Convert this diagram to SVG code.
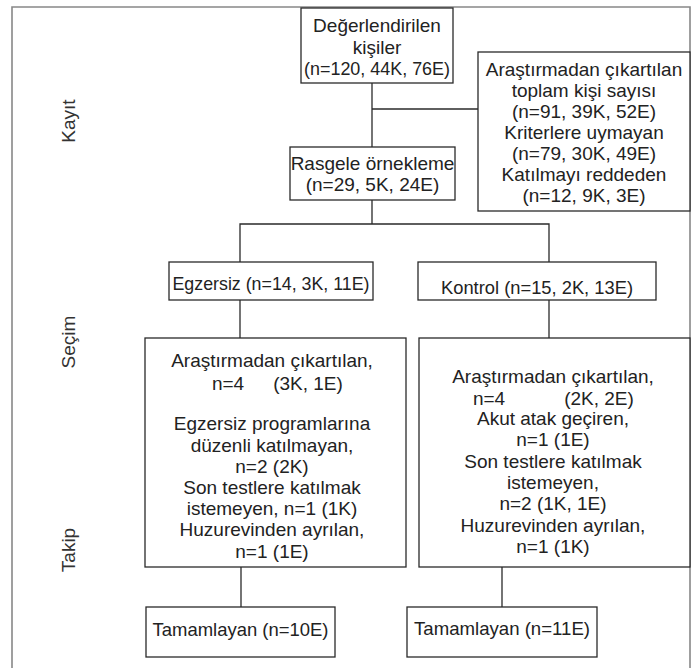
<svg xmlns="http://www.w3.org/2000/svg" width="697" height="668" viewBox="0 0 697 668">
<style>
.box{fill:#fff;stroke:#2a2a2a;stroke-width:1.3}
.t{font-family:"Liberation Sans",Arial,sans-serif;font-size:19px;fill:#222;text-anchor:middle}
.lbl{font-family:"Liberation Sans",Arial,sans-serif;font-size:19px;fill:#333;text-anchor:middle;dominant-baseline:central}
.c{fill:none;stroke:#2a2a2a;stroke-width:1.3}
</style>
<rect width="697" height="668" fill="#fff"/>
<path d="M12,668 V7 H690 V668" fill="none" stroke="#888" stroke-width="1.6"/>
<g id="labels">
<text class="lbl" transform="translate(68,121) rotate(-90)">Kayıt</text>
<text class="lbl" transform="translate(68,342) rotate(-90)">Seçim</text>
<text class="lbl" transform="translate(68,550) rotate(-90)">Takip</text>
</g>
<g id="connectors">
<path class="c" d="M372,83 V147"/>
<path class="c" d="M372,109 H478"/>
<path class="c" d="M372,200 V224 M240,262 V224 H549 V262"/>
<path class="c" d="M240,300 V338"/>
<path class="c" d="M549,300 V338"/>
<path class="c" d="M241,567 V607"/>
<path class="c" d="M502,567 V607"/>
</g>
<g id="n1">
<rect class="box" x="301" y="8" width="152" height="75"/>
<text class="t"><tspan x="377" y="32">Değerlendirilen</tspan><tspan x="377" y="53.5">kişiler</tspan><tspan x="377" y="75" textLength="146" lengthAdjust="spacingAndGlyphs">(n=120, 44K, 76E)</tspan></text>
</g>
<g id="n2">
<rect class="box" x="478" y="52" width="212" height="159"/>
<text class="t"><tspan x="584" y="75.5">Araştırmadan çıkartılan</tspan><tspan x="584" y="96.5">toplam kişi sayısı</tspan><tspan x="584" y="117.5">(n=91, 39K, 52E)</tspan><tspan x="584" y="138.5">Kriterlere uymayan</tspan><tspan x="584" y="159.5">(n=79, 30K, 49E)</tspan><tspan x="584" y="180.5">Katılmayı reddeden</tspan><tspan x="584" y="201.5">(n=12, 9K, 3E)</tspan></text>
</g>
<g id="n3">
<rect class="box" x="290" y="147" width="165" height="53"/>
<text class="t"><tspan x="372.5" y="169.5">Rasgele örnekleme</tspan><tspan x="372.5" y="190.5">(n=29, 5K, 24E)</tspan></text>
</g>
<g id="n4">
<rect class="box" x="169" y="262" width="204" height="38"/>
<text class="t" x="271" y="290" textLength="197" lengthAdjust="spacingAndGlyphs">Egzersiz (n=14, 3K, 11E)</text>
</g>
<g id="n5">
<rect class="box" x="418" y="262" width="238" height="38"/>
<text class="t" x="537" y="293.5" textLength="192" lengthAdjust="spacingAndGlyphs">Kontrol (n=15, 2K, 13E)</text>
</g>
<g id="n6">
<rect class="box" x="145" y="338" width="261" height="229"/>
<text class="t"><tspan x="272" y="366.5">Araştırmadan çıkartılan,</tspan><tspan x="228" y="389.5">n=4</tspan><tspan x="308" y="389.5">(3K, 1E)</tspan><tspan x="272" y="429.5">Egzersiz programlarına</tspan><tspan x="272" y="451.5">düzenli katılmayan,</tspan><tspan x="272" y="472.5">n=2 (2K)</tspan><tspan x="272" y="493.5">Son testlere katılmak</tspan><tspan x="272" y="514.5">istemeyen, n=1 (1K)</tspan><tspan x="272" y="535.5">Huzurevinden ayrılan,</tspan><tspan x="272" y="557.5">n=1 (1E)</tspan></text>
</g>
<g id="n7">
<rect class="box" x="419" y="338" width="271" height="229"/>
<text class="t"><tspan x="553" y="382.5">Araştırmadan çıkartılan,</tspan><tspan x="489" y="404.5">n=4</tspan><tspan x="599" y="404.5">(2K, 2E)</tspan><tspan x="553" y="424.5">Akut atak geçiren,</tspan><tspan x="553" y="445.5">n=1 (1E)</tspan><tspan x="553" y="467.5">Son testlere katılmak</tspan><tspan x="553" y="488.5">istemeyen,</tspan><tspan x="553" y="509.5">n=2 (1K, 1E)</tspan><tspan x="553" y="531.5">Huzurevinden ayrılan,</tspan><tspan x="553" y="552.5">n=1 (1K)</tspan></text>
</g>
<g id="n8">
<rect class="box" x="146" y="607" width="189" height="50"/>
<text class="t" x="240.5" y="636" textLength="176" lengthAdjust="spacingAndGlyphs">Tamamlayan (n=10E)</text>
</g>
<g id="n9">
<rect class="box" x="407" y="607" width="190" height="50"/>
<text class="t" x="502" y="634.5" textLength="176" lengthAdjust="spacingAndGlyphs">Tamamlayan (n=11E)</text>
</g>
</svg>
